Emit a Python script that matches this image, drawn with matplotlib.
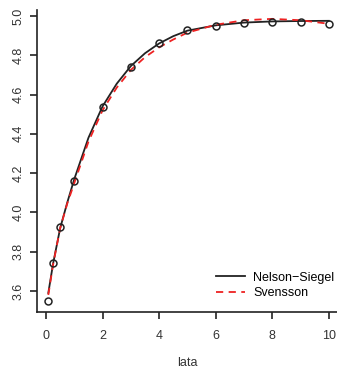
import matplotlib
matplotlib.use("Agg")
import matplotlib.pyplot as plt

# observed yields (maturity in years)
lata = [0.08, 0.25, 0.5, 1, 2, 3, 4, 5, 6, 7, 8, 9, 10]
stopy = [3.551, 3.741, 3.926, 4.162, 4.534, 4.741, 4.863, 4.927, 4.951, 4.964, 4.970, 4.970, 4.959]

# fitted curves
t_fit = [0.08, 0.25, 0.5, 0.75, 1, 1.5, 2, 2.5, 3, 3.5, 4, 4.5, 5, 6, 7, 8, 9, 10]
ns_fit = [3.59, 3.74, 3.92, 4.05, 4.17, 4.38, 4.54, 4.655, 4.745, 4.81, 4.86, 4.897, 4.925,
          4.952, 4.966, 4.972, 4.974, 4.975]
sv_fit = [3.58, 3.735, 3.92, 4.045, 4.15, 4.36, 4.52, 4.635, 4.725, 4.79, 4.84, 4.88, 4.915,
          4.955, 4.978, 4.985, 4.978, 4.96]

xticks = [0, 2, 4, 6, 8, 10]
yticks = [3.6, 3.8, 4.0, 4.2, 4.4, 4.6, 4.8, 5.0]

plt.rcParams['font.family'] = ['Liberation Sans', 'DejaVu Sans']

fig = plt.figure(figsize=(3.37, 3.71), dpi=100)
ax = fig.add_axes([0.1098, 0.159, 0.8902, 0.814])

ax.plot(t_fit, ns_fit, color='#222222', lw=1.3, label='Nelson\u2212Siegel')
ax.plot(t_fit, sv_fit, color='#ee2222', lw=1.3, ls=(0, (4, 3)), label='Svensson')
ax.plot(lata, stopy, 'o', mfc='none', mec='#222222', ms=5, mew=1.1)

ax.set_xlim(-0.32, 10.29)
ax.set_ylim(3.493, 5.03)
ax.set_xticks(xticks)
ax.set_xticklabels([str(v) for v in xticks])
ax.set_yticks(yticks)
ax.set_yticklabels(['%.1f' % v for v in yticks], rotation=90, va='center')

for s in ['top', 'right']:
    ax.spines[s].set_visible(False)
for s in ['left', 'bottom']:
    ax.spines[s].set_linewidth(1.2)
    ax.spines[s].set_color('#222222')

ax.tick_params(direction='out', length=5, width=1.2, color='#222222',
               labelsize=9, labelcolor='#333333')
ax.tick_params(axis='x', pad=8)
ax.tick_params(axis='y', pad=4)
ax.set_xlabel('lata', fontsize=9, color='#333333', labelpad=11)

ax.legend(loc='lower right', frameon=False, fontsize=9, handlelength=2.3,
          handletextpad=0.7, borderaxespad=0.4, labelspacing=0.25,
          bbox_to_anchor=(1.025, 0.01))

fig.savefig('out.png', dpi=100)
